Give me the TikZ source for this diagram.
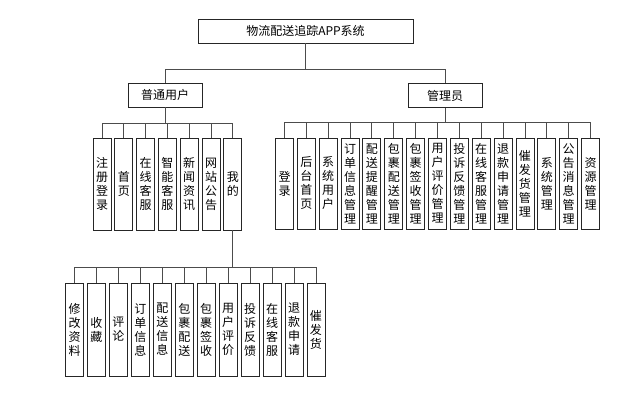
\documentclass[tikz,border=0pt]{standalone}
\usepackage{fontspec}
\setmainfont{Noto Sans CJK SC}
\usetikzlibrary{positioning, calc}

\begin{document}
\begin{tikzpicture}[
  x=1pt, y=-1pt,
  font=\fontsize{12}{14}\selectfont,
  box/.style={draw=black!85, line width=0.9pt, inner sep=0pt, align=center},
  topbox/.style={box, minimum width=215pt, minimum height=24pt},
  rolebox/.style={box, minimum width=74pt, minimum height=24pt},
  leafbox/.style={box, minimum width=18pt, minimum height=92pt},
  link/.style={draw=black!70, line width=0.9pt}]

\useasboundingbox (0,0) rectangle (641,403);

\node[topbox] (sys) at (305.5,31) {物流配送追踪APP系统};
\node[rolebox] (user) at (165,95) {普通用户};
\node[rolebox] (admin) at (445,95.5) {管理员};

\foreach \txt [count=\i] in {{注\\册\\登\\录}, {首\\页}, {在\\线\\客\\服},
    {智\\能\\客\\服}, {新\\闻\\资\\讯}, {网\\站\\公\\告}, {我\\的}}
  \node[leafbox] (u\i) at ({102+(\i-1)*21.8},184) {\txt};

\foreach \txt [count=\i] in {{登\\录}, {后\\台\\首\\页}, {系\\统\\用\\户},
    {订\\单\\信\\息\\管\\理}, {配\\送\\提\\醒\\管\\理}, {包\\裹\\配\\送\\管\\理},
    {包\\裹\\签\\收\\管\\理}, {用\\户\\评\\价\\管\\理}, {投\\诉\\反\\馈\\管\\理},
    {在\\线\\客\\服\\管\\理}, {退\\款\\申\\请\\管\\理}, {催\\发\\货\\管\\理},
    {系\\统\\管\\理}, {公\\告\\消\\息\\管\\理}, {资\\源\\管\\理}}
  \node[leafbox, minimum height=91pt] (a\i) at ({284.5+(\i-1)*21.86},183.5) {\txt};

\foreach \txt [count=\i] in {{修\\改\\资\\料}, {收\\藏}, {评\\论}, {订\\单\\信\\息},
    {配\\送\\信\\息}, {包\\裹\\配\\送}, {包\\裹\\签\\收}, {用\\户\\评\\价},
    {投\\诉\\反\\馈}, {在\\线\\客\\服}, {退\\款\\申\\请}, {催\\发\\货}}
  \node[leafbox, minimum height=93pt] (m\i) at ({74.5+(\i-1)*21.95},329.5) {\txt};

\coordinate (top bus) at ([yshift=-26pt]sys.south);
\coordinate (user bus) at ([yshift=-16pt]user.south);
\coordinate (admin bus) at ([yshift=-14.5pt]admin.south);
\coordinate (mine bus) at ([yshift=-37pt]u7.south);

\draw[link] (sys.south) -- (top bus);
\draw[link] (user.north) |- (top bus) -| (admin.north);

\draw[link] (user.south) -- (user bus);
\foreach \i in {1,...,7}
  \draw[link] (user bus) -| (u\i.north);

\draw[link] (admin.south) -- (admin bus);
\foreach \i in {1,...,15}
  \draw[link] (admin bus) -| (a\i.north);

\draw[link] (u7.south) -- (mine bus);
\foreach \i in {1,...,12}
  \draw[link] (mine bus) -| (m\i.north);
\end{tikzpicture}
\end{document}
